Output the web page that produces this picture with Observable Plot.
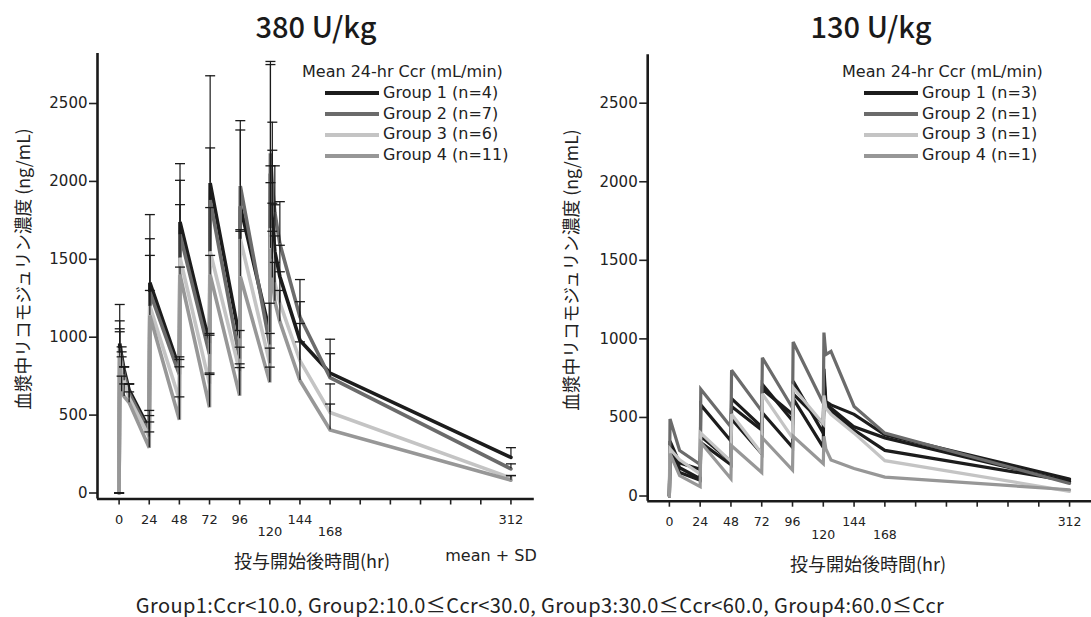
<!DOCTYPE html>
<html>
<head>
<meta charset="utf-8">
<script src="https://cdn.jsdelivr.net/npm/d3@7"></script>
<script src="https://cdn.jsdelivr.net/npm/@observablehq/plot@0.6"></script>
<style>
  body { margin: 0; background: #fff; }
  #chart { position: relative; width: 1091px; height: 617px; overflow: hidden; color: #222; font-family: "DejaVu Sans", sans-serif; }
  .abs { position: absolute; white-space: nowrap; }
  .center { transform: translate(-50%, -50%); }
  .title { font-family: "Noto Sans CJK JP", sans-serif; font-size: 29px; font-weight: 500; color: #1a1a1a; }
  .ylab { font-family: "Noto Sans CJK JP", sans-serif; font-size: 17.7px; transform: translate(-50%, -50%) rotate(-90deg); }
  .xlab { font-family: "Noto Sans CJK JP", sans-serif; font-size: 18px; }
  .caption { font-family: "Noto Sans CJK JP", sans-serif; font-size: 20px; letter-spacing: 0.4px; }
  .legend { font-family: "DejaVu Sans", sans-serif; font-size: 16px; line-height: 20.8px; }
  .legend .row { display: flex; align-items: center; height: 20.8px; }
  .legend svg { display: block; margin-right: 4px; }
  .note { font-family: "DejaVu Sans", sans-serif; font-size: 16px; }
</style>
</head>
<body>
<div id="chart"></div>
<script>
// ---- shared labels and tick values ----
const groupNames = ["Group 1", "Group 2", "Group 3", "Group 4"];
const groupColors = ["#1c1c1c", "#6b6b6b", "#c4c4c4", "#979797"];
const counts380 = [4, 7, 6, 11];
const counts130 = [3, 1, 1, 1];
const hourTicks = [0, 24, 48, 72, 96, 120, 144, 168, 192, 216, 240, 264, 288, 312];
const hourLabelsUpper = [0, 24, 48, 72, 96, 144, 312];
const hourLabelsLower = [120, 168];
const concTicks = [0, 500, 1000, 1500, 2000, 2500];
const legendTitle = "Mean 24-hr Ccr (mL/min)";
const yTitle = "血漿中リコモジュリン濃度 (ng/mL)";
const xTitle = "投与開始後時間(hr)";
const captionText = "Group1:Ccr<10.0, Group2:10.0≤Ccr<30.0, Group3:30.0≤Ccr<60.0, Group4:60.0≤Ccr";

// ---- 380 U/kg: group mean and SD (ng/mL) ----
const hours380 = [0, 0.5, 2, 4, 8, 24, 24.5, 48, 48.5, 72, 72.5, 96, 96.5, 120, 120.5, 122, 124, 128, 144, 168, 312];
const g1Mean380 = [0, 960, 880, 790, 660, 410, 1350, 800, 1740, 960, 1990, 990, 1840, 1030, 2050, 1750, 1550, 1390, 980, 770, 228];
const g1Sd380   = [0, 250, 58, 20, 40, 120, 437, 74, 374, 64, 688, 53, 490, 188, 720, 450, 300, 200, 248, 217, 63];
const g2Mean380 = [0, 930, 850, 760, 640, 390, 1290, 760, 1660, 890, 1880, 860, 1970, 950, 2180, 1980, 1800, 1600, 1130, 740, 155];
const g2Sd380   = [0, 175, 56, 50, 60, 107, 342, 97, 347, 123, 335, 76, 420, 74, 570, 400, 300, 270, 240, 154, 32];
const g3Mean380 = [0, 900, 800, 720, 610, 360, 1200, 600, 1510, 700, 1550, 780, 1630, 830, 1700, 1500, 1350, 1220, 850, 517, 97];
const g3Sd380   = [0, 154, 74, 90, 90, 96, 325, 210, 341, 70, 282, 49, 60, 100, 400, 360, 300, 200, 238, 183, 15];
const g4Mean380 = [0, 870, 650, 620, 580, 290, 1140, 470, 1400, 550, 1400, 625, 1390, 710, 1570, 1380, 1230, 1100, 722, 405, 82];
const g4Sd380   = [0, 165, 100, 80, 69, 102, 160, 147, 50, 211, 125, 180, 290, 98, 422, 300, 250, 200, 248, 166, 30];

// ---- 130 U/kg: individual profiles (ng/mL) ----
const hours130 = [0, 0.5, 8, 24, 24.5, 48, 48.5, 72, 72.5, 96, 96.5, 120, 120.5, 122, 126, 144, 168, 312];
const g1aConc130 = [0, 350, 210, 170, 580, 350, 620, 440, 710, 480, 730, 400, 810, 600, 580, 520, 390, 108];
const g1bConc130 = [0, 320, 180, 110, 380, 220, 570, 420, 680, 520, 650, 460, 700, 580, 560, 440, 370, 90];
const g1cConc130 = [0, 280, 150, 100, 340, 200, 490, 270, 530, 310, 620, 310, 740, 580, 540, 420, 290, 95];
const g2Conc130  = [0, 490, 290, 200, 680, 440, 800, 540, 880, 560, 980, 590, 1040, 900, 920, 570, 400, 80];
const g3Conc130  = [0, 300, 230, 140, 400, 220, 520, 270, 650, 370, 690, 460, 640, 560, 520, 400, 225, 30];
const g4Conc130  = [0, 270, 130, 60, 340, 110, 320, 150, 370, 165, 380, 205, 380, 300, 230, 175, 120, 40];

// ---- tidy tables built from the arrays ----
const means380 = [g1Mean380, g2Mean380, g3Mean380, g4Mean380];
const sds380 = [g1Sd380, g2Sd380, g3Sd380, g4Sd380];
const rows380 = groupNames.flatMap((g, i) =>
  hours380.map((t, j) => ({group: g, t, mean: means380[i][j], top: means380[i][j] + sds380[i][j]})));

const subjects130 = [
  {id: "1a", group: "Group 1", conc: g1aConc130},
  {id: "1b", group: "Group 1", conc: g1bConc130},
  {id: "1c", group: "Group 1", conc: g1cConc130},
  {id: "2", group: "Group 2", conc: g2Conc130},
  {id: "3", group: "Group 3", conc: g3Conc130},
  {id: "4", group: "Group 4", conc: g4Conc130}
];
const rows130 = subjects130.flatMap(s => hours130.map((t, j) => ({id: s.id, group: s.group, t, v: s.conc[j]})));

// horizontal cap drawn on top of each SD whisker
const capSymbol = {
  draw(ctx, size) {
    const r = Math.sqrt(size / Math.PI);
    ctx.moveTo(-r, 0);
    ctx.lineTo(r, 0);
  }
};

// L-shaped axes: tick marks every 24 h, labels staggered at 120 and 168
function axesMarks(xDomain, yDomain, xFont, padUpper, padLower) {
  return [
    Plot.axisY({ticks: concTicks, label: null, tickSize: 8, tickPadding: 2, strokeWidth: 1.6, fontSize: 15, tickFormat: d => String(d)}),
    Plot.axisX({ticks: hourTicks, label: null, tickSize: 6, strokeWidth: 1.6, tickFormat: () => ""}),
    Plot.axisX({ticks: hourLabelsUpper, label: null, tickSize: 0, tickPadding: padUpper, fontSize: xFont, tickFormat: d => String(d)}),
    Plot.axisX({ticks: hourLabelsLower, label: null, tickSize: 0, tickPadding: padLower, fontSize: xFont, tickFormat: d => String(d)}),
    Plot.ruleX([xDomain[0]], {stroke: "#1a1a1a", strokeWidth: 2.6}),
    Plot.ruleY([yDomain[0]], {stroke: "#1a1a1a", strokeWidth: 2.6})
  ];
}

const baseStyle = {fontFamily: "DejaVu Sans, sans-serif", fontSize: "14px", color: "#222", background: "transparent", overflow: "visible"};
const colorScale = {domain: groupNames, range: groupColors};

// ---- left panel: 380 U/kg, mean + SD ----
const xDomain380 = [-17.2, 330.6];
const yDomain380 = [-38.5, 2821];
const plot380 = Plot.plot({
  width: 545, height: 580,
  marginLeft: 97, marginRight: 11.2, marginTop: 53, marginBottom: 81.5,
  style: baseStyle,
  x: {domain: xDomain380, axis: null},
  y: {domain: yDomain380, axis: null},
  color: colorScale,
  marks: [
    ...axesMarks(xDomain380, yDomain380, 13, 16, 27.5),
    Plot.line(rows380, {x: "t", y: "mean", z: "group", stroke: "group", strokeWidth: 3.6, strokeLinejoin: "miter", strokeMiterlimit: 3}),
    Plot.ruleX(rows380, {x: "t", y1: "mean", y2: "top", stroke: "#1a1a1a", strokeWidth: 1.2}),
    Plot.dot(rows380, {x: "t", y: "top", symbol: capSymbol, r: 5, stroke: "#1a1a1a", strokeWidth: 1.3, fill: "none"})
  ]
});

// ---- right panel: 130 U/kg, individual subjects ----
const xDomain130 = [-16.9, 329.1];
const yDomain130 = [-33, 2808];
const plot130 = Plot.plot({
  width: 546, height: 580,
  marginLeft: 102.2, marginRight: 0, marginTop: 54.3, marginBottom: 79.3,
  style: baseStyle,
  x: {domain: xDomain130, axis: null},
  y: {domain: yDomain130, axis: null},
  color: colorScale,
  marks: [
    ...axesMarks(xDomain130, yDomain130, 12.5, 15.5, 29),
    Plot.line(rows130, {x: "t", y: "v", z: "id", stroke: "group", strokeWidth: 3.2, strokeLinejoin: "miter", strokeMiterlimit: 3})
  ]
});

// ---- assemble page ----
const chart = document.getElementById("chart");
function place(node, left, top) {
  node.style.position = "absolute";
  node.style.left = left + "px";
  node.style.top = top + "px";
  chart.appendChild(node);
  return node;
}
function label(text, cls, x, y) {
  const el = document.createElement("div");
  el.className = "abs center " + cls;
  el.textContent = text;
  el.style.left = x + "px";
  el.style.top = y + "px";
  chart.appendChild(el);
  return el;
}
function legend(x, y, indent, counts) {
  const box = document.createElement("div");
  box.className = "abs legend";
  box.style.left = x + "px";
  box.style.top = y + "px";
  const head = document.createElement("div");
  head.textContent = legendTitle;
  head.style.height = "20.8px";
  box.appendChild(head);
  groupNames.forEach((g, i) => {
    const row = document.createElement("div");
    row.className = "row";
    row.style.marginLeft = indent + "px";
    const sw = d3.create("svg").attr("width", 54).attr("height", 10);
    sw.append("line").attr("x1", 0).attr("x2", 54).attr("y1", 5).attr("y2", 5)
      .attr("stroke", groupColors[i]).attr("stroke-width", 4);
    row.appendChild(sw.node());
    const t = document.createElement("span");
    t.textContent = `${g} (n=${counts[i]})`;
    row.appendChild(t);
    box.appendChild(row);
  });
  chart.appendChild(box);
}

place(plot380, 0, 0);
place(plot130, 545, 0);

label("380 U/kg", "title", 316, 25);
label("130 U/kg", "title", 871, 25);
label(yTitle, "ylab", 22, 268.5);
label(yTitle, "ylab", 570, 269.5);
label(xTitle, "xlab", 312, 560);
label(xTitle, "xlab", 868, 563);
label("mean + SD", "note", 491, 555);
label(captionText, "caption", 540, 604);
legend(302, 62, 23, counts380);
legend(842, 62, 22, counts130);
</script>
</body>
</html>
